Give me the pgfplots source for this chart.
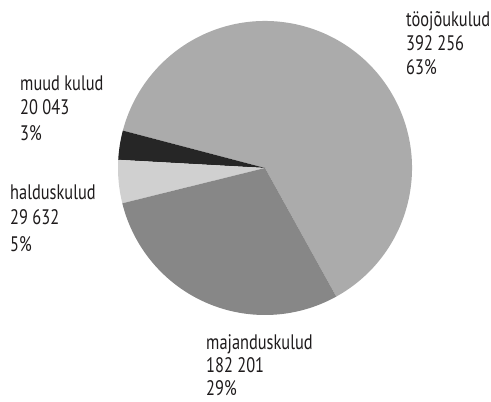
\documentclass[border=0pt]{standalone}
\usepackage{pgfplots}
\pgfplotsset{compat=1.18}
\usepackage{fontspec}
\setmainfont[FakeStretch=0.78]{PT Sans}
\definecolor{cToo}{RGB}{171,171,171}
\definecolor{cMaj}{RGB}{135,135,135}
\definecolor{cHal}{RGB}{208,208,208}
\definecolor{cMuu}{RGB}{38,38,38}
\definecolor{txt}{RGB}{30,27,28}
% values
\def\vToo{392256}
\def\vMuu{20043}
\def\vHal{29632}
\def\vMaj{182201}
\edef\tot{\fpeval{\vToo+\vMuu+\vHal+\vMaj}}
\edef\aA{-61}
\edef\aB{\fpeval{\aA+360*\vToo/\tot}}
\edef\aC{\fpeval{\aB+360*\vMuu/\tot}}
\edef\aD{\fpeval{\aC+360*\vHal/\tot}}
\edef\aE{\fpeval{\aD+360*\vMaj/\tot}}
\def\cx{265}
\def\cy{234}
\def\R{147}
\begin{document}
\begin{tikzpicture}
\begin{axis}[hide axis, scale only axis, width=491bp, height=402bp,
  xmin=0, xmax=491, ymin=0, ymax=402, clip=false]
\fill[cToo] (axis cs:\cx,\cy) -- (axis cs:{\cx+\R*cos(\aA)},{\cy+\R*sin(\aA)}) arc[start angle=\aA, end angle=\aB, radius=\R] -- cycle;
\fill[cMuu] (axis cs:\cx,\cy) -- (axis cs:{\cx+\R*cos(\aB)},{\cy+\R*sin(\aB)}) arc[start angle=\aB, end angle=\aC, radius=\R] -- cycle;
\fill[cHal] (axis cs:\cx,\cy) -- (axis cs:{\cx+\R*cos(\aC)},{\cy+\R*sin(\aC)}) arc[start angle=\aC, end angle=\aD, radius=\R] -- cycle;
\fill[cMaj] (axis cs:\cx,\cy) -- (axis cs:{\cx+\R*cos(\aD)},{\cy+\R*sin(\aD)}) arc[start angle=\aD, end angle=\aE, radius=\R] -- cycle;
\begin{scope}[every node/.style={anchor=base west, inner sep=0pt, text=txt, font=\fontsize{21bp}{24bp}\selectfont}]
\node at (axis cs:406,375) {töojõukulud};
\node at (axis cs:406,351) {392 256};
\node at (axis cs:406,327) {63\%};
\node at (axis cs:20,311) {muud kulud};
\node at (axis cs:20,287) {20 043};
\node at (axis cs:20,261) {3\%};
\node at (axis cs:10,202) {halduskulud};
\node at (axis cs:10,177) {29 632};
\node at (axis cs:10,150) {5\%};
\node at (axis cs:206,53) {majanduskulud};
\node at (axis cs:206,30) {182 201};
\node at (axis cs:206,7) {29\%};
\end{scope}
\end{axis}
\pgfresetboundingbox
\useasboundingbox (current axis.south west) rectangle (current axis.north east);
\end{tikzpicture}
\end{document}
